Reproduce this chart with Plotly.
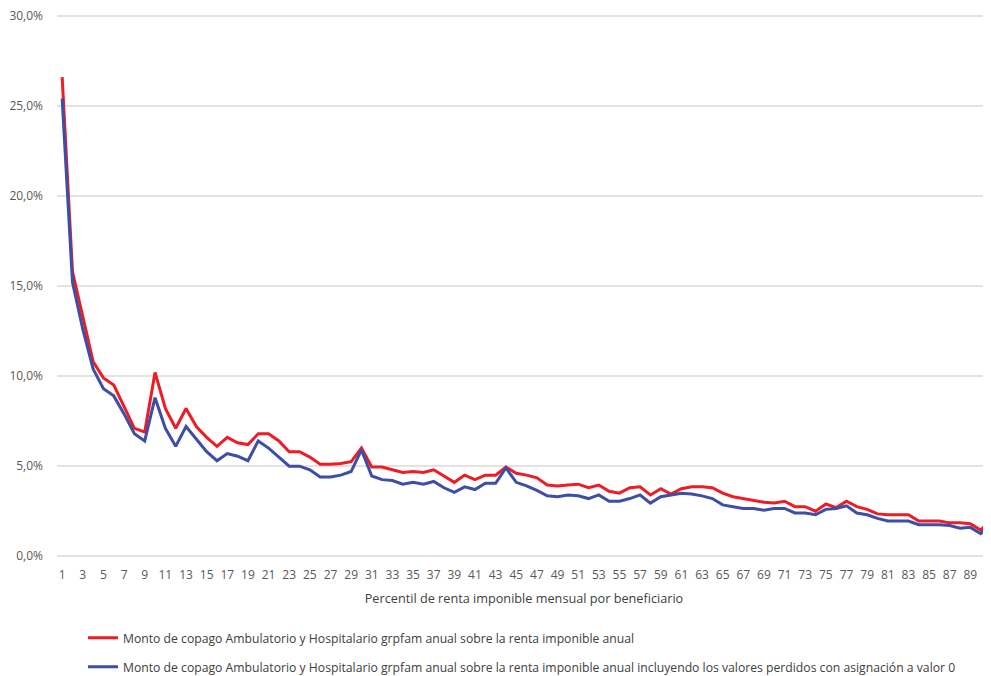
import plotly.graph_objects as go

percentiles = list(range(1, 92))

copago_anual = [
    26.6, 15.8, 13.3, 10.8, 9.9, 9.5, 8.3, 7.1, 6.9, 10.2,
    8.2, 7.1, 8.2, 7.2, 6.6, 6.1, 6.6, 6.3, 6.2, 6.8,
    6.8, 6.4, 5.8, 5.8, 5.5, 5.1, 5.1, 5.15, 5.25, 6.0,
    4.95, 4.95, 4.8, 4.65, 4.7, 4.65, 4.8, 4.45, 4.1, 4.5,
    4.25, 4.5, 4.5, 4.95, 4.6, 4.5, 4.35, 3.95, 3.9, 3.95,
    4.0, 3.8, 3.95, 3.6, 3.5, 3.8, 3.85, 3.4, 3.75, 3.45,
    3.75, 3.85, 3.85, 3.8, 3.5, 3.3, 3.2, 3.1, 3.0, 2.95,
    3.05, 2.75, 2.75, 2.5, 2.9, 2.7, 3.05, 2.75, 2.6, 2.35,
    2.3, 2.3, 2.3, 1.95, 1.95, 1.95, 1.85, 1.85, 1.8, 1.45,
    2.0,
]

copago_con_ceros = [
    25.4, 15.2, 12.6, 10.4, 9.3, 8.9, 7.9, 6.8, 6.4, 8.8,
    7.1, 6.1, 7.2, 6.5, 5.8, 5.3, 5.7, 5.55, 5.3, 6.4,
    6.0, 5.5, 5.0, 5.0, 4.8, 4.4, 4.4, 4.5, 4.7, 5.9,
    4.45, 4.25, 4.2, 4.0, 4.1, 4.0, 4.15, 3.8, 3.55, 3.85,
    3.7, 4.05, 4.05, 4.9, 4.1, 3.9, 3.65, 3.35, 3.3, 3.4,
    3.35, 3.2, 3.4, 3.05, 3.05, 3.2, 3.4, 2.95, 3.3, 3.4,
    3.5, 3.45, 3.35, 3.2, 2.85, 2.75, 2.65, 2.65, 2.55, 2.65,
    2.65, 2.4, 2.4, 2.3, 2.6, 2.65, 2.8, 2.4, 2.3, 2.1,
    1.95, 1.95, 1.95, 1.75, 1.75, 1.75, 1.7, 1.55, 1.6, 1.25,
    1.8,
]

y_ticks = [0, 5, 10, 15, 20, 25, 30]
y_tick_labels = ["0,0%", "5,0%", "10,0%", "15,0%", "20,0%", "25,0%", "30,0%"]
x_ticks = list(range(1, 92, 2))
x_tick_labels = [str(v) for v in x_ticks]

name_red = "Monto de copago Ambulatorio y Hospitalario grpfam anual sobre la renta imponible anual"
name_blue = ("Monto de copago Ambulatorio y Hospitalario grpfam anual sobre la renta imponible anual "
             "incluyendo los valores perdidos con asignación a valor 0")

fig = go.Figure()
fig.add_trace(go.Scatter(x=percentiles, y=copago_anual, mode="lines", name=name_red,
                         line=dict(color="#ee1c25", width=3), legendgroup="a"))
fig.add_trace(go.Scatter(x=percentiles, y=copago_con_ceros, mode="lines", name=name_blue,
                         line=dict(color="#3c4ea5", width=3), legendgroup="b"))

font_family = "Open Sans, Liberation Sans, sans-serif"

fig.update_layout(
    width=983, height=676,
    margin=dict(l=49, r=0, t=6, b=126, autoexpand=False),
    plot_bgcolor="white", paper_bgcolor="white",
    font=dict(family=font_family, size=12, color="#595959"),
    showlegend=True,
    legend=dict(x=0.0278, xanchor="left", y=-0.12, yanchor="top",
                font=dict(size=12.2, color="#404040"), tracegroupgap=10,
                bgcolor="rgba(0,0,0,0)"),
    xaxis=dict(range=[0.5, 91.0], tickmode="array", tickvals=x_ticks, ticktext=x_tick_labels,
               showgrid=False, zeroline=False, showline=False, ticks="",
               ticklabelstandoff=8, ticklabeloverflow="allow",
               tickfont=dict(size=12, color="#595959"),
               title=dict(text="Percentil de renta imponible mensual por beneficiario",
                          font=dict(size=12.7, color="#404040"), standoff=12)),
    yaxis=dict(range=[-0.1, 30.1], tickmode="array", tickvals=y_ticks, ticktext=y_tick_labels,
               showgrid=True, gridcolor="#e3e3e3", gridwidth=1.5, zeroline=False,
               showline=False, ticks="", ticklabelstandoff=13, ticklabeloverflow="allow",
               tickfont=dict(size=12, color="#595959")),
)

fig.write_html("out.html")
